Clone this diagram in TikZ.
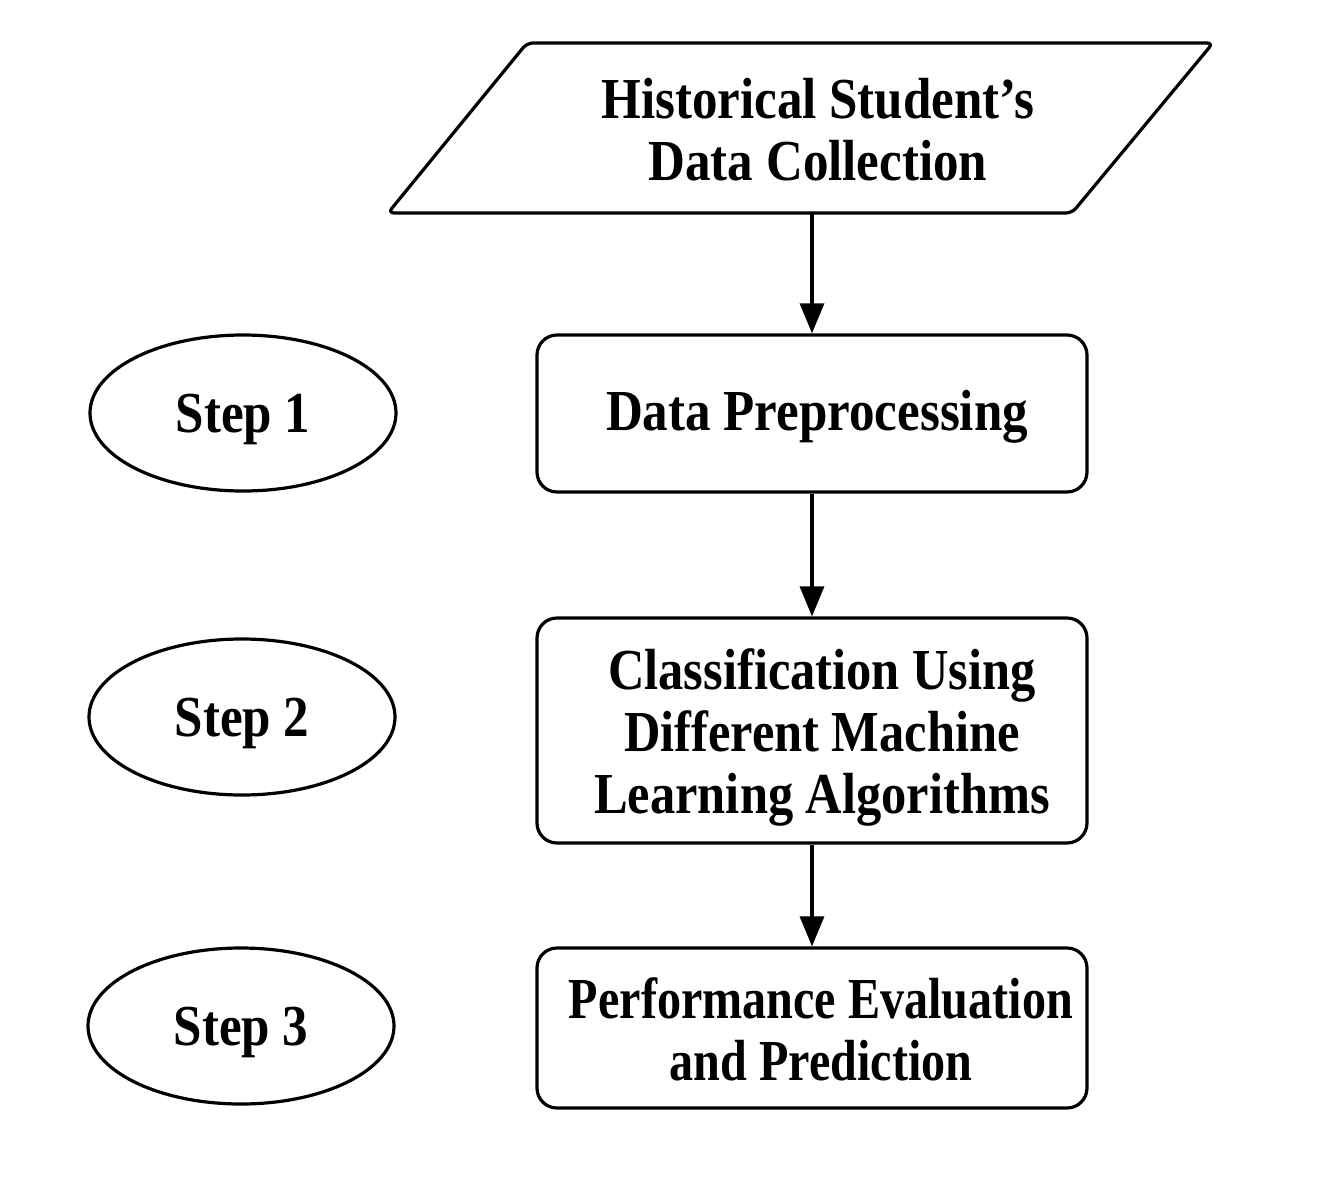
\documentclass[tikz,border=0pt]{standalone}
\usepackage{fontspec}
\setmainfont{Liberation Serif}
\usetikzlibrary{arrows.meta,shapes.geometric}
\begin{document}
\begin{tikzpicture}[x=0.5pt,y=-0.5pt,
  lbl/.style={font=\bfseries\fontsize{29}{31}\selectfont, align=center, inner sep=0pt},
  procbox/.style={draw, line width=1.6pt, rounded corners=10pt, minimum width=275pt, inner sep=0pt},
  stepell/.style={draw, ellipse, line width=1.6pt, minimum width=153pt, minimum height=78pt, inner sep=0pt},
  flow/.style={line width=1.6pt, -{Triangle[length=15pt,width=12pt]}}]
\useasboundingbox (0,0) rectangle (1323,1189);
\fill[white] (0,0) rectangle (1323,1189);
% source parallelogram
\node[minimum width=412.5pt, minimum height=85pt, inner sep=0pt] (src) at (800.5,128) {};
\draw[line width=1.6pt, rounded corners=3pt] (527,43) -- (1213,43) -- (1072,213) -- (388,213) -- cycle;
\node[lbl, xscale=0.88] at (818,130) {Historical Student's\\Data Collection};
% process boxes
\node[procbox, minimum height=78.5pt] (b1) at (812,413.5) {};
\node[lbl, xscale=0.88] at (817,417) {Data Preprocessing};
\node[procbox, minimum height=112.5pt] (b2) at (812,730.5) {};
\node[lbl, xscale=0.87] at (822,737) {Classification Using\\Different Machine\\Learning Algorithms};
\node[procbox, minimum height=80pt] (b3) at (812,1028) {};
\node[lbl, xscale=0.83] at (821,1029) {Performance Evaluation\\and Prediction};
% steps
\node[stepell] (s1) at (243,413) {};
\node[stepell] (s2) at (242,717) {};
\node[stepell] (s3) at (241,1026) {};
\node[lbl, xscale=0.88, yshift=-3pt] at (s1.center) {Step 1};
\node[lbl, xscale=0.88, yshift=-3pt] at (s2.center) {Step 2};
\node[lbl, xscale=0.88, yshift=-3pt] at (s3.center) {Step 3};
% arrows
\draw[flow] (src.south -| b1.north) -- (b1.north);
\draw[flow] (b1.south) -- (b2.north);
\draw[flow] (b2.south) -- (b3.north);
\end{tikzpicture}
\end{document}
